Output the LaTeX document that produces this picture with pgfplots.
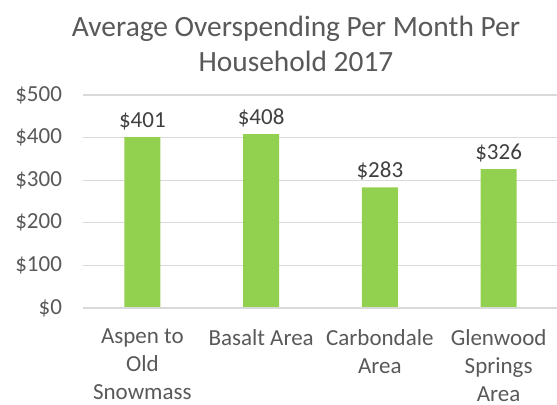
\documentclass[border=0pt]{standalone}
\usepackage{fontspec}
\setmainfont{Carlito}
\usepackage{pgfplots}
\pgfplotsset{compat=1.18}
\definecolor{bargreen}{HTML}{92D050}
\definecolor{txtgray}{HTML}{595959}
\definecolor{lblgray}{HTML}{404040}
\definecolor{gridgray}{HTML}{D9D9D9}
\begin{document}
\begin{tikzpicture}
\begin{axis}[
  name=ax,
  scale only axis,
  width=237.5pt, height=106.5pt,
  xmin=-0.5, xmax=3.5,
  ymin=0, ymax=500,
  ytick={0,100,200,300,400,500},
  xtick={0,1,2,3},
  xticklabels={{Aspen to\\Old\\Snowmass},{Basalt Area},{Carbondale\\Area},{Glenwood\\Springs\\Area}},
  axis lines=left,
  axis line style={draw=none, -},
  ymajorgrids,
  grid style={gridgray, line width=0.6pt},
  major tick length=0pt,
  /pgf/number format/assume math mode=true,
  yticklabel={\$\pgfmathprintnumber{\tick}},
  yticklabel style={font=\fontsize{11.5}{14}\selectfont, text=txtgray, xshift=-7pt},
  xticklabel style={font=\fontsize{11.5}{14}\selectfont, text=txtgray, align=center, yshift=-7pt},
  nodes near coords={\$\pgfmathprintnumber{\pgfplotspointmeta}},
  nodes near coords style={font=\fontsize{11.5}{14}\selectfont, text=lblgray},
]
\addplot[ybar, bar width=18pt, fill=bargreen, draw=none] coordinates {(0,401) (1,408) (2,283) (3,326)};
\draw[gridgray, line width=0.6pt] (rel axis cs:0,0) -- (rel axis cs:1,0);
\end{axis}
\node[font=\fontsize{14.7}{17.5}\selectfont, text=txtgray, align=center] at ([shift={(106.5pt,132pt)}]ax.south west) {Average Overspending Per Month Per\\Household 2017};
\pgfresetboundingbox
\path ([shift={(-41.5pt,-48.5pt)}]ax.south west) rectangle ++(278.5pt,202.5pt);
\end{tikzpicture}
\end{document}
